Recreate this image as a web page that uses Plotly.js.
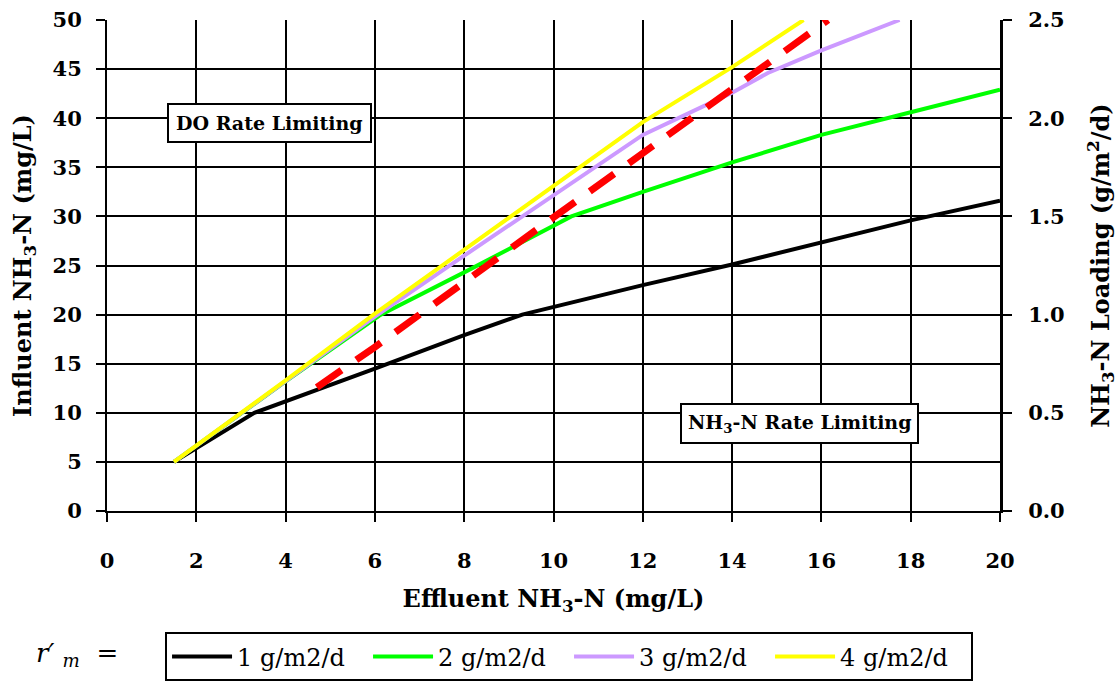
<!DOCTYPE html>
<html><head><meta charset="utf-8">
<script src="https://cdn.plot.ly/plotly-3.0.1.min.js"></script>
<style>body{margin:0;background:#fff}#chart{width:1118px;height:686px}</style>
</head><body><div id="chart"></div>
<script>
// Data
const series1X = [1.5, 3.3, 6, 8, 9.3, 12, 14, 16, 18, 20];
const series1Y = [5, 10, 14.5, 17.9, 20, 23, 25.1, 27.3, 29.6, 31.6];
const series2X = [1.5, 4, 6.1, 8, 10.4, 12, 14, 16, 18, 20];
const series2Y = [5, 13.2, 19.9, 24.3, 30, 32.5, 35.5, 38.3, 40.6, 42.9];
const series3X = [1.5, 4, 6, 8, 10, 12, 14, 14.8, 16, 17.75];
const series3Y = [5, 13.2, 19.8, 26, 32.2, 38.3, 42.6, 44.6, 46.9, 50];
const series4X = [1.5, 4, 6, 8, 10, 12, 14, 15.6];
const series4Y = [5, 13.3, 20.1, 26.6, 33.2, 39.6, 45.2, 50];
const boundaryX = [4.7, 6, 10, 12, 14, 16.15];
const boundaryY = [12.6, 16.7, 29.9, 36.5, 43, 50];
const seriesNames = ["1 g/m2/d", "2 g/m2/d", "3 g/m2/d", "4 g/m2/d"];
const seriesColors = ["#000000", "#00ff00", "#cc99ff", "#ffff00"];

const serif = "DejaVu Serif, serif";
const xs = [series1X, series2X, series3X, series4X];
const ys = [series1Y, series2Y, series3Y, series4Y];
const traces = xs.map((x, i) => ({
  x: x, y: ys[i], type: 'scatter', mode: 'lines', name: seriesNames[i],
  line: {color: seriesColors[i], width: 4}
}));
traces.push({x: boundaryX, y: boundaryY, type: 'scatter', mode: 'lines', showlegend: false,
  line: {color: '#ff0000', width: 7, dash: '30px,18px'}});
// invisible trace to activate right axis
traces.push({x: [0], y: [0], yaxis: 'y2', type: 'scatter', mode: 'markers', showlegend: false,
  marker: {opacity: 0}, hoverinfo: 'skip'});

const tickFont = {family: serif, size: 21, weight: 'bold', color: '#000'};
const titleFont = {family: serif, size: 24, weight: 'bold', color: '#000'};
const layout = {
  width: 1118, height: 686,
  margin: {l: 107, r: 118, t: 20, b: 175, autoexpand: false},
  paper_bgcolor: '#fff', plot_bgcolor: '#fff',
  showlegend: true,
  font: {family: serif, color: '#000', size: 20},
  xaxis: {
    range: [0, 20], dtick: 2, tick0: 0,
    showgrid: true, gridcolor: '#000', gridwidth: 2,
    zeroline: false, showline: true, linecolor: '#000', linewidth: 2,
    ticks: 'outside', ticklen: 9, tickwidth: 2, tickcolor: '#000',
    ticklabelstandoff: 21,
    tickfont: tickFont,
    title: {text: 'Effluent NH<sub>3</sub>-N (mg/L)', font: titleFont, standoff: 18}
  },
  yaxis: {
    range: [0, 50], dtick: 5, tick0: 0,
    showgrid: true, gridcolor: '#000', gridwidth: 2,
    zeroline: false, showline: true, linecolor: '#000', linewidth: 2,
    ticks: 'outside', ticklen: 9, tickwidth: 2, tickcolor: '#000',
    ticklabelstandoff: 10,
    tickfont: tickFont,
    title: {text: 'Influent NH<sub>3</sub>-N (mg/L)', font: titleFont, standoff: 14}
  },
  yaxis2: {
    overlaying: 'y', side: 'right', range: [0, 2.5], dtick: 0.5, tick0: 0,
    tickformat: '.1f', showgrid: false, zeroline: false,
    showline: true, linecolor: '#000', linewidth: 3,
    ticks: 'outside', ticklen: 9, tickwidth: 2, tickcolor: '#000',
    ticklabelstandoff: 12,
    tickfont: tickFont,
    title: {text: 'NH<sub>3</sub>-N Loading (g/m<sup>2</sup>/d)', font: titleFont, standoff: 30}
  },
  legend: {
    orientation: 'h', x: 0.065, xanchor: 'left', y: -0.247, yanchor: 'top',
    bordercolor: '#000', borderwidth: 2, bgcolor: '#fff',
    font: {family: serif, size: 24, color: '#000'},
    itemwidth: 60, entrywidth: 126, entrywidthmode: 'pixels', traceorder: 'normal'
  },
  annotations: [
    {x: 3.65, y: 39.56, xref: 'x', yref: 'y', text: 'DO Rate Limiting', showarrow: false,
     font: {family: serif, size: 19, weight: 'bold', color: '#000'}, bgcolor: '#fff', bordercolor: '#000', borderwidth: 2, borderpad: 7},
    {x: 18.18, y: 8.96, xref: 'x', yref: 'y', xanchor: 'right', text: 'NH<sub>3</sub>-N Rate Limiting', showarrow: false,
     font: {family: serif, size: 19, weight: 'bold', color: '#000'}, bgcolor: '#fff', bordercolor: '#000', borderwidth: 2, borderpad: 6},
    {x: 0.0146, y: -0.293, xref: 'paper', yref: 'paper', xanchor: 'right', yanchor: 'middle',
     text: '<i>r′ <sub>m</sub></i>  =', showarrow: false, font: {family: serif, size: 26, color: '#000'}}
  ]
};
Plotly.newPlot('chart', traces, layout, {displayModeBar: false, staticPlot: true});
</script></body></html>
